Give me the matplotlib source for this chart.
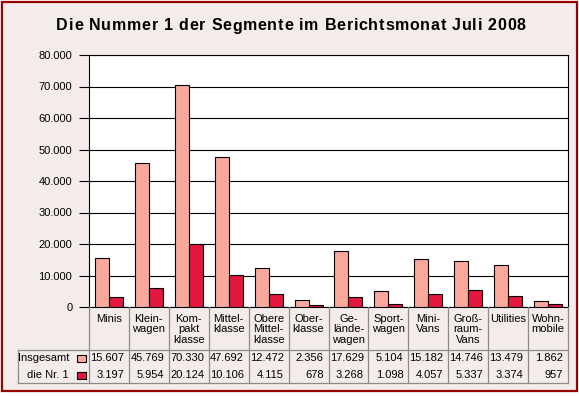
import matplotlib
matplotlib.use("Agg")
import matplotlib.pyplot as plt
from matplotlib.lines import Line2D
from matplotlib.patches import Rectangle
from matplotlib.transforms import blended_transform_factory
from matplotlib.font_manager import FontProperties

plt.rcParams['font.family'] = ['Liberation Sans', 'DejaVu Sans']

categories = ["Minis", "Klein-\nwagen", "Kom-\npakt\nklasse", "Mittel-\nklasse",
              "Obere\nMittel-\nklasse", "Ober-\nklasse", "Ge-\nlände-\nwagen",
              "Sport-\nwagen", "Mini-\nVans", "Groß-\nraum-\nVans", "Utilities",
              "Wohn-\nmobile"]
insgesamt = [15607, 45769, 70330, 47692, 12472, 2356, 17629, 5104, 15182, 14746, 13479, 1862]
nr1 = [3197, 5954, 20124, 10106, 4115, 678, 3268, 1098, 4057, 5337, 3374, 957]
series_names = ["Insgesamt", "die Nr. 1"]
yticks = [0, 10000, 20000, 30000, 40000, 50000, 60000, 70000, 80000]
title = "Die Nummer 1 der Segmente im Berichtsmonat Juli 2008"

W, H = 579, 396
DPI = 100
bg = "#F4ECEB"
c_light = "#FAA89B"
c_dark = "#E3173E"
border = "#990000"
grid_grey = "#8C8C8C"

fig = plt.figure(figsize=(W / DPI, H / DPI), dpi=DPI, facecolor="white")

def fy(py):
    return 1 - py / H

def fx(px):
    return px / W

# background frame
fig.add_artist(Rectangle((fx(2), fy(391)), fx(575), (389) / H, transform=fig.transFigure,
                         facecolor=bg, edgecolor=border, linewidth=1.6, zorder=0))

L, R, T, B = 89, 568, 55, 307
ax = fig.add_axes([fx(L), fy(B), (R - L) / W, (B - T) / H])
ax.set_facecolor("white")
n = len(categories)
x = list(range(n))
bw = 0.35
ax.bar([i - bw / 2 for i in x], insgesamt, width=bw, color=c_light, edgecolor="black",
       linewidth=0.8, zorder=3)
ax.bar([i + bw / 2 for i in x], nr1, width=bw, color=c_dark, edgecolor="black",
       linewidth=0.8, zorder=3)
ax.set_xlim(-0.5, n - 0.5)
ax.set_ylim(0, 80000)
ax.set_yticks(yticks)
ax.set_yticklabels([f"{v:,}".replace(",", ".") for v in yticks], fontsize=8)
ax.tick_params(axis="y", length=7, width=0.8, pad=5)
ax.set_xticks([])
ax.yaxis.grid(True, color="black", linewidth=0.8, zorder=0)
ax.set_axisbelow(True)
for s in ax.spines.values():
    s.set_linewidth(0.8)
    s.set_color("black")

# title with letter spacing
renderer = fig.canvas.get_renderer()
fp = FontProperties(family=['Liberation Sans', 'DejaVu Sans'], weight="bold", size=11.5)
extra = 0.75
widths = []
for ch in title:
    if ch == " ":
        w, _, _ = renderer.get_text_width_height_descent("a a", fp, ismath=False)
        w2, _, _ = renderer.get_text_width_height_descent("aa", fp, ismath=False)
        widths.append(w - w2)
    else:
        w, _, _ = renderer.get_text_width_height_descent(ch, fp, ismath=False)
        widths.append(w)
total = sum(widths) + extra * (len(title) - 1)
cx = 291 - total / 2
for ch, w in zip(title, widths):
    if ch != " ":
        fig.text(fx(cx), fy(26), ch, ha="left", va="center", fontproperties=fp)
    cx += w + extra

# table
tr = blended_transform_factory(ax.transData, fig.transFigure)
lw = 0.9
def hline(x0, x1, py):
    fig.add_artist(Line2D([fx(x0), fx(x1)], [fy(py), fy(py)], transform=fig.transFigure,
                          color=grid_grey, linewidth=lw))

for i in range(n + 1):
    fig.add_artist(Line2D([i - 0.5, i - 0.5], [fy(B), fy(383)], transform=tr,
                          color=grid_grey, linewidth=lw))
hline(18, R, 350)
hline(18, R, 383)
fig.add_artist(Line2D([fx(18), fx(18)], [fy(350), fy(383)], transform=fig.transFigure,
                      color=grid_grey, linewidth=lw))

for i, cat in enumerate(categories):
    fig.text(i, fy(314), cat, transform=tr, ha="center", va="top", fontsize=8,
             linespacing=1.05)

rows = [insgesamt, nr1]
row_y = [358, 375]
colors = [c_light, c_dark]
for r, (vals, py, col, name) in enumerate(zip(rows, row_y, colors, series_names)):
    fig.text(fx(69), fy(py), name, ha="right", va="center", fontsize=8)
    fig.add_artist(Rectangle((fx(77), fy(py + 3.5)), 9 / W, 7 / H, transform=fig.transFigure,
                             facecolor=col, edgecolor="black", linewidth=0.8))
    for i, v in enumerate(vals):
        fig.text(i + 0.5 - 0.12, fy(py), f"{v:,}".replace(",", "."), transform=tr,
                 ha="right", va="center", fontsize=8)

fig.savefig("out.png", dpi=DPI, facecolor="white")
